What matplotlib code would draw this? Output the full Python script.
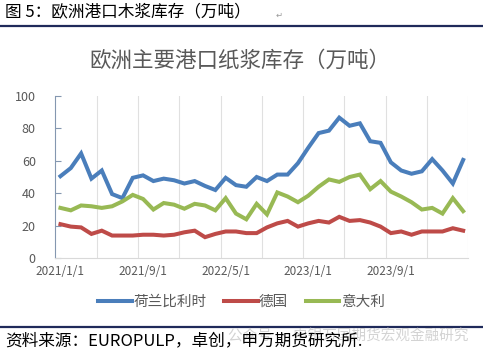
import numpy as np
import matplotlib
matplotlib.use("Agg")
import matplotlib.pyplot as plt
from matplotlib.lines import Line2D

plt.rcParams['font.family'] = ['Noto Sans CJK SC', 'DejaVu Sans']

# monthly data, 2021/1 .. 2024/4 (万吨)
months = [f"{2021 + (m // 12)}/{m % 12 + 1}/1" for m in range(40)]
netherlands_belgium = [50.5, 55.5, 64.5, 49, 54, 39.5, 37, 49.5, 51, 47.5,
                       49, 48, 46, 47.5, 44.5, 42, 49.5, 45, 44, 50,
                       47.5, 51.5, 51.5, 58.5, 68, 77, 78.5, 86.5, 81.5, 83,
                       72, 71, 59, 54, 52, 53.5, 61, 54, 46, 60.5]
germany = [21, 19.5, 19, 15, 17, 14, 14, 14, 14.5, 14.5,
           14, 14.5, 16, 17, 13, 15, 16.5, 16.5, 15.5, 15.5,
           19, 21.5, 23, 19.5, 21.5, 23, 22, 25.5, 23, 23.5,
           22, 19.5, 15.5, 16.5, 14.5, 16.5, 16.5, 16.5, 18.5, 17]
italy = [31, 29.5, 32.5, 32, 31, 32, 35, 39, 36.5, 30,
         34, 33, 30.5, 33.5, 32.5, 29.5, 37, 27.5, 24, 33.5,
         27, 40.5, 38, 34.5, 38.5, 44, 48.5, 47, 50, 51.5,
         42.5, 47.5, 41, 38, 34.5, 30, 31, 27.5, 37, 29]
series_names = ['荷兰比利时', '德国', '意大利']
colors = ['#4A7EBB', '#BE4B48', '#98B954']

fig = plt.figure(figsize=(4.83, 3.56), dpi=100)
ax = fig.add_axes([0.1145, 0.2744, 0.9696 - 0.1145, 0.7312 - 0.2744])

x = np.arange(len(months))
for vals, c in zip([netherlands_belgium, germany, italy], colors):
    ax.plot(x, vals, color=c, lw=2.9, solid_joinstyle='miter')

ax.set_xlim(-0.5, len(months) - 0.5)
ax.set_ylim(0, 100)
ax.set_yticks(range(0, 101, 20))
for gx in np.arange(3.5, len(months), 4):
    ax.axvline(gx, color='#E0E0E0', lw=0.8, zorder=0)
lab_idx = [0, 8, 16, 24, 32]
ax.set_xticks(lab_idx)
ax.set_xticklabels([months[i] for i in lab_idx])
ax.tick_params(axis='x', length=0, pad=5, labelsize=8.5, labelcolor='#595959')
ax.tick_params(axis='y', direction='in', length=4, color='#8497B0',
               labelsize=9, labelcolor='#595959', pad=14)
for s in ['top', 'right']:
    ax.spines[s].set_visible(False)
ax.spines['left'].set_color('#8497B0')
ax.spines['bottom'].set_color('#D9D9D9')

handles = [Line2D([0], [0], color=c, lw=2.9) for c in colors]
fig.legend(handles, series_names, loc='center', bbox_to_anchor=(0.5, 1 - 302 / 356),
           ncol=3, frameon=False, fontsize=10.5, handlelength=2.3, handletextpad=0.1,
           columnspacing=1.2, labelcolor='#595959')

fig.text(0.497, 1 - 61 / 356, '欧洲主要港口纸浆库存（万吨）', ha='center', va='center',
         fontsize=15.5, color='#595959')

# report header and footer
fig.text(5 / 483, 1 - 13 / 356, '图 5：欧洲港口木浆库存（万吨）', ha='left', va='center',
         fontsize=12, color='black')
fig.text(276 / 483, 1 - 15 / 356, '↵', ha='left', va='center', fontsize=6, color='#999999')
fig.add_artist(Line2D([0, 1], [1 - 26 / 356] * 2, color='#1F2A5A', lw=1.6))
fig.add_artist(Line2D([0, 1], [1 - 327 / 356] * 2, color='#1F2A5A', lw=1.6))
fig.text(228 / 483, 1 - 337 / 356, '公众号 · 申银万国期货宏观金融研究', ha='left', va='center',
         fontsize=10.5, color='#C8C8C8', alpha=0.8)
fig.text(5 / 483, 1 - 341 / 356, '资料来源：EUROPULP，卓创，申万期货研究所.', ha='left',
         va='center', fontsize=12, color='black')

fig.savefig('out.png', dpi=100, facecolor='white')
